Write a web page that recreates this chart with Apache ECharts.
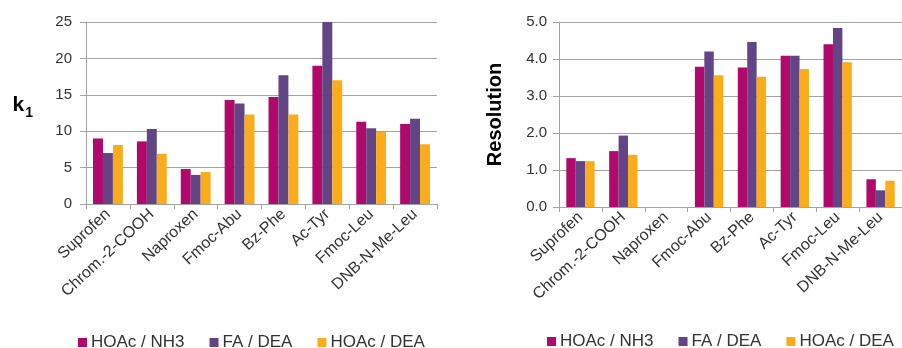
<!DOCTYPE html>
<html>
<head>
<meta charset="utf-8">
<script src="https://cdn.jsdelivr.net/npm/echarts@6/dist/echarts.min.js"></script>
<style>
html,body{margin:0;padding:0;background:#fff;}
#c{width:902px;height:348px;}
</style>
</head>
<body>
<div id="c"></div>
<script>
var categories = ['Suprofen','Chrom.-2-COOH','Naproxen','Fmoc-Abu','Bz-Phe','Ac-Tyr','Fmoc-Leu','DNB-N-Me-Leu'];
var seriesNames = ['HOAc / NH3','FA / DEA','HOAc / DEA'];
var k1_HOAcNH3 = [9.0, 8.6, 4.8, 14.3, 14.7, 19.0, 11.3, 11.0];
var k1_FADEA   = [7.0, 10.3, 4.0, 13.8, 17.7, 25.0, 10.4, 11.7];
var k1_HOAcDEA = [8.1, 6.9, 4.4, 12.3, 12.3, 17.0, 9.9, 8.2];
var rs_HOAcNH3 = [1.32, 1.51, 0, 3.79, 3.77, 4.09, 4.40, 0.75];
var rs_FADEA   = [1.24, 1.93, 0, 4.20, 4.46, 4.09, 4.84, 0.45];
var rs_HOAcDEA = [1.24, 1.41, 0, 3.56, 3.52, 3.73, 3.91, 0.71];
var colors = ['#B0086B', '#634585', '#FBAC1B'];

var FONT = "'Liberation Sans', Arial, sans-serif";
var GRID_COLOR = '#A3A3A3';
var TEXT_COLOR = '#333333';

function xAxis(gridIndex) {
  return {
    type: 'category', gridIndex: gridIndex, data: categories,
    axisLine: {lineStyle: {color: GRID_COLOR, width: 1}},
    axisTick: {show: true, length: 5, lineStyle: {color: GRID_COLOR}},
    axisLabel: {interval: 0, rotate: 43, margin: 8, color: TEXT_COLOR, fontSize: 16, fontFamily: FONT}
  };
}

var chart = echarts.init(document.getElementById('c'), null, {renderer: 'canvas'});
var option = {
  animation: false,
  backgroundColor: '#ffffff',
  grid: [
    {left: 86, top: 22, width: 351, height: 182},
    {left: 559, top: 22, width: 348, height: 185}
  ],
  xAxis: [xAxis(0), xAxis(1)],
  yAxis: [
    {
      type: 'value', gridIndex: 0, min: 0, max: 25, interval: 5,
      name: '{k|k}{s|1}', nameLocation: 'middle', nameRotate: 0, nameGap: 53,
      nameTextStyle: {
        rich: {
          k: {fontSize: 21, fontWeight: 'bold', color: '#000', fontFamily: FONT, lineHeight: 30, verticalAlign: 'middle'},
          s: {fontSize: 14, fontWeight: 'bold', color: '#000', fontFamily: FONT, verticalAlign: 'bottom', padding: [0, 0, 0, 1]}
        },
        padding: [0, 0, 16, 0]
      },
      axisLine: {show: true, lineStyle: {color: GRID_COLOR}},
      axisTick: {show: true, length: 6, lineStyle: {color: GRID_COLOR}},
      splitLine: {lineStyle: {color: GRID_COLOR, width: 1}},
      axisLabel: {color: TEXT_COLOR, fontSize: 15, fontFamily: FONT, margin: 14}
    },
    {
      type: 'value', gridIndex: 1, min: 0, max: 5, interval: 1,
      name: 'Resolution', nameLocation: 'middle', nameRotate: 90, nameGap: 54,
      nameTextStyle: {fontSize: 20, fontWeight: 'bold', color: '#000', fontFamily: FONT},
      axisLine: {show: true, lineStyle: {color: GRID_COLOR}},
      axisTick: {show: true, length: 6, lineStyle: {color: GRID_COLOR}},
      splitLine: {lineStyle: {color: GRID_COLOR, width: 1}},
      axisLabel: {color: TEXT_COLOR, fontSize: 15, fontFamily: FONT, margin: 12,
        formatter: function (v) { return v.toFixed(1); }}
    }
  ],
  legend: [
    {
      data: seriesNames, left: 73, top: 329, icon: 'rect', itemWidth: 9, itemHeight: 9,
      itemGap: 25, textStyle: {fontSize: 17, color: TEXT_COLOR, fontFamily: FONT, padding: [0, 0, 0, -1]}
    },
    {
      data: seriesNames, left: 542, top: 328, icon: 'rect', itemWidth: 9, itemHeight: 9,
      itemGap: 25, textStyle: {fontSize: 17, color: TEXT_COLOR, fontFamily: FONT, padding: [0, 0, 0, -1]}
    }
  ],
  series: [
    {name: seriesNames[0], type: 'bar', xAxisIndex: 0, yAxisIndex: 0, data: k1_HOAcNH3, itemStyle: {color: colors[0]}, barGap: '0%', barCategoryGap: '32%'},
    {name: seriesNames[1], type: 'bar', xAxisIndex: 0, yAxisIndex: 0, data: k1_FADEA, itemStyle: {color: colors[1]}, barGap: '0%', barCategoryGap: '32%'},
    {name: seriesNames[2], type: 'bar', xAxisIndex: 0, yAxisIndex: 0, data: k1_HOAcDEA, itemStyle: {color: colors[2]}, barGap: '0%', barCategoryGap: '32%'},
    {name: seriesNames[0], type: 'bar', xAxisIndex: 1, yAxisIndex: 1, data: rs_HOAcNH3, itemStyle: {color: colors[0]}, barGap: '0%', barCategoryGap: '34%'},
    {name: seriesNames[1], type: 'bar', xAxisIndex: 1, yAxisIndex: 1, data: rs_FADEA, itemStyle: {color: colors[1]}, barGap: '0%', barCategoryGap: '34%'},
    {name: seriesNames[2], type: 'bar', xAxisIndex: 1, yAxisIndex: 1, data: rs_HOAcDEA, itemStyle: {color: colors[2]}, barGap: '0%', barCategoryGap: '34%'}
  ]
};
chart.setOption(option);
</script>
</body>
</html>
